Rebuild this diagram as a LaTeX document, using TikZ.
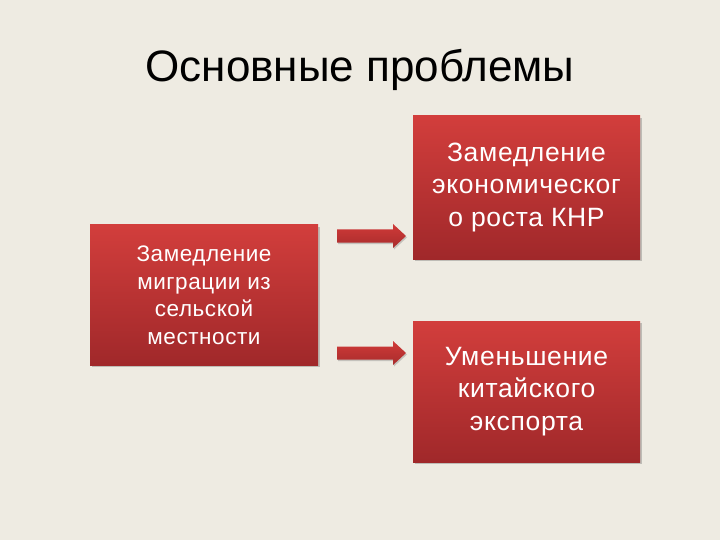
\documentclass[tikz,border=0pt]{standalone}
\usepackage{fontspec}
\setmainfont{Liberation Sans}
\usetikzlibrary{shadows}
\definecolor{bg}{HTML}{EEEBE2}
\definecolor{boxtop}{HTML}{D23E3C}
\definecolor{boxbot}{HTML}{A0282A}
\definecolor{arrtop}{HTML}{D03A38}
\definecolor{arrbot}{HTML}{A82C2C}
\tikzset{
  redbox/.style={rectangle, inner sep=0pt, top color=boxtop, bottom color=boxbot,
    draw=none, text=white, align=center,
    drop shadow={shadow xshift=1.5pt, shadow yshift=-2pt, opacity=0.35, fill=black!60}},
  fatarrow/.style={top color=arrtop, bottom color=arrbot, draw=none,
    drop shadow={shadow xshift=1pt, shadow yshift=-1.5pt, opacity=0.3, fill=black!60}}
}
\begin{document}
\begin{tikzpicture}[x=1pt,y=-1pt]
\fill[bg] (0,0) rectangle (720,540);
\useasboundingbox (0,0) rectangle (720,540);
\node[font=\fontsize{44}{50}\selectfont, anchor=base] (title) at (360,82) {Основные проблемы};
\node[redbox, minimum width=228pt, minimum height=140pt, text depth=0pt,
  font=\fontsize{22.5}{27.5}\selectfont\addfontfeature{LetterSpace=2.5}] (src) at (204,295)
  {Замедление\\миграции из\\сельской\\местности};
\node[redbox, minimum width=227pt, minimum height=143pt,
  font=\fontsize{26.5}{32.5}\selectfont\addfontfeature{LetterSpace=2.5}] (t1) at (526.5,187.5)
  {Замедление\\экономическог\\о роста КНР};
\node[redbox, minimum width=227pt, minimum height=141pt,
  font=\fontsize{26.5}{32.5}\selectfont\addfontfeature{LetterSpace=2.5}] (t2) at (526.5,391.5)
  {Уменьшение\\китайского\\экспорта};
% arrows
\coordinate (a1) at (337,236);
\coordinate (a2) at (337,353);
\path[fatarrow] (a1) ++(0,-6.5) -- ++(56,0) -- ++(0,-5.5) -- ++(13,12) -- ++(-13,12) -- ++(0,-5.5) -- ++(-56,0) -- cycle;
\path[fatarrow] (a2) ++(0,-6.5) -- ++(56,0) -- ++(0,-5.5) -- ++(13,12) -- ++(-13,12) -- ++(0,-5.5) -- ++(-56,0) -- cycle;
\end{tikzpicture}
\end{document}
